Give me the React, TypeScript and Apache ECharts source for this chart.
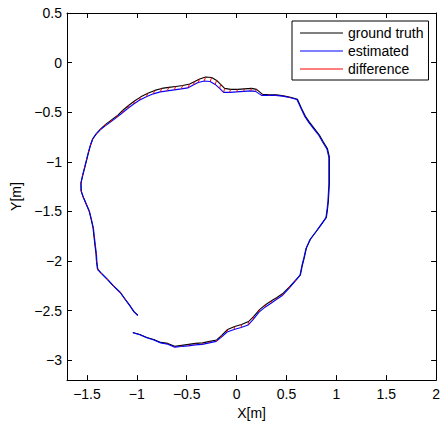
import React, { useEffect, useRef } from "react";
import * as echarts from "echarts";

const gtX = [-0.99,-1.03,-1.07,-1.12,-1.17,-1.24,-1.30,-1.36,-1.395,-1.405,-1.41,-1.42,-1.43,-1.44,-1.46,-1.48,-1.51,-1.54,-1.56,-1.56,-1.54,-1.52,-1.50,-1.48,-1.46,-1.44,-1.40,-1.36,-1.31,-1.25,-1.19,-1.14,-1.08,-1.02,-0.96,-0.89,-0.82,-0.75,-0.68,-0.61,-0.54,-0.47,-0.42,-0.37,-0.31,-0.25,-0.20,-0.16,-0.12,-0.06,0.01,0.08,0.15,0.20,0.26,0.33,0.40,0.47,0.54,0.61,0.65,0.69,0.73,0.78,0.83,0.87,0.91,0.93,0.93,0.93,0.93,0.925,0.92,0.91,0.90,0.85,0.80,0.74,0.70,0.68,0.66,0.64,0.59,0.53,0.46,0.40,0.35,0.29,0.23,0.17,0.12,0.05,-0.02,-0.09,-0.15,-0.20,-0.27,-0.34,-0.41,-0.48,-0.55,-0.62,-0.69,-0.76,-0.83,-0.90,-0.97,-1.04];
const gtY = [-2.545,-2.51,-2.45,-2.38,-2.31,-2.245,-2.18,-2.12,-2.08,-2.00,-1.92,-1.84,-1.75,-1.66,-1.57,-1.49,-1.42,-1.35,-1.29,-1.21,-1.13,-1.05,-0.97,-0.89,-0.82,-0.765,-0.71,-0.665,-0.62,-0.575,-0.53,-0.48,-0.43,-0.385,-0.345,-0.31,-0.28,-0.26,-0.25,-0.24,-0.23,-0.215,-0.19,-0.165,-0.145,-0.15,-0.18,-0.22,-0.26,-0.27,-0.27,-0.265,-0.26,-0.27,-0.32,-0.325,-0.325,-0.335,-0.35,-0.37,-0.46,-0.54,-0.60,-0.665,-0.73,-0.80,-0.865,-0.95,-1.04,-1.13,-1.22,-1.31,-1.40,-1.49,-1.56,-1.63,-1.70,-1.78,-1.87,-1.96,-2.04,-2.14,-2.195,-2.26,-2.33,-2.37,-2.40,-2.44,-2.49,-2.56,-2.61,-2.64,-2.66,-2.69,-2.75,-2.795,-2.81,-2.825,-2.83,-2.84,-2.85,-2.86,-2.83,-2.82,-2.79,-2.77,-2.74,-2.72];
const estX = [-0.99,-1.025,-1.065,-1.115,-1.165,-1.23,-1.29,-1.35,-1.39,-1.40,-1.405,-1.415,-1.425,-1.435,-1.455,-1.475,-1.505,-1.535,-1.555,-1.56,-1.545,-1.525,-1.505,-1.485,-1.465,-1.445,-1.41,-1.37,-1.32,-1.265,-1.205,-1.15,-1.095,-1.035,-0.975,-0.905,-0.835,-0.765,-0.695,-0.625,-0.555,-0.49,-0.435,-0.385,-0.325,-0.265,-0.215,-0.17,-0.13,-0.07,0.0,0.07,0.14,0.19,0.25,0.32,0.39,0.46,0.53,0.605,0.645,0.685,0.725,0.775,0.825,0.865,0.905,0.925,0.925,0.925,0.925,0.92,0.915,0.905,0.895,0.845,0.795,0.735,0.695,0.675,0.655,0.635,0.585,0.525,0.455,0.395,0.345,0.285,0.225,0.165,0.115,0.045,-0.025,-0.095,-0.155,-0.205,-0.275,-0.345,-0.415,-0.485,-0.555,-0.62,-0.69,-0.76,-0.83,-0.90,-0.97,-1.04];
const estY = [-2.55,-2.515,-2.455,-2.39,-2.32,-2.255,-2.19,-2.13,-2.09,-2.01,-1.93,-1.85,-1.76,-1.67,-1.58,-1.50,-1.43,-1.36,-1.30,-1.22,-1.14,-1.06,-0.98,-0.90,-0.83,-0.775,-0.72,-0.68,-0.64,-0.60,-0.555,-0.51,-0.465,-0.42,-0.38,-0.345,-0.315,-0.295,-0.285,-0.275,-0.265,-0.255,-0.225,-0.20,-0.185,-0.19,-0.22,-0.26,-0.30,-0.30,-0.295,-0.29,-0.285,-0.29,-0.33,-0.33,-0.33,-0.338,-0.352,-0.372,-0.46,-0.545,-0.605,-0.67,-0.735,-0.805,-0.87,-0.955,-1.045,-1.135,-1.225,-1.315,-1.405,-1.495,-1.565,-1.635,-1.705,-1.785,-1.875,-1.965,-2.045,-2.145,-2.205,-2.275,-2.35,-2.39,-2.425,-2.465,-2.515,-2.59,-2.645,-2.67,-2.69,-2.715,-2.77,-2.81,-2.825,-2.84,-2.845,-2.855,-2.862,-2.868,-2.838,-2.825,-2.795,-2.773,-2.743,-2.722];

const seriesNames = ["ground truth", "estimated", "difference"];
const FONT = "'Liberation Sans', Arial, Helvetica, sans-serif";

const fmt = (v: number) => String(v).replace("-", "\u2212");

export default function App() {
  const ref = useRef<HTMLDivElement>(null);
  useEffect(() => {
    if (!ref.current) return;
    const chart = echarts.init(ref.current, undefined, { renderer: "svg" });
    const gt = gtX.map((x, i) => [x, gtY[i]]);
    const est = estX.map((x, i) => [x, estY[i]]);
    const diff: any[] = [];
    gtX.forEach((x, i) => {
      diff.push([x, gtY[i]]);
      diff.push([estX[i], estY[i]]);
      diff.push(["-", "-"]);
    });
    const axisCommon = {
      type: "value" as const,
      splitLine: { show: false },
      axisLine: { show: true, onZero: false, lineStyle: { color: "#000", width: 1 } },
      axisTick: { show: true, inside: true, length: 5, lineStyle: { color: "#000" } },
    };
    chart.setOption({
      animation: false,
      grid: { left: 67, top: 13, width: 370, height: 371, containLabel: false },
      legend: {
        orient: "vertical",
        left: 292,
        top: 21,
        padding: [5, 5, 4, 8],
        itemGap: 4,
        itemWidth: 43,
        itemHeight: 1,
        itemTextGap: 5,
        icon: "rect",
        borderColor: "#000",
        borderWidth: 1,
        borderRadius: 0,
        backgroundColor: "#fff",
        textStyle: { fontSize: 14, color: "#000", fontFamily: FONT },
        data: seriesNames,
      },
      xAxis: [
        {
          ...axisCommon,
          position: "bottom",
          min: -1.7,
          max: 2,
          splitNumber: 7,
          name: "X[m]",
          nameLocation: "middle",
          nameGap: 23,
          nameTextStyle: { fontSize: 14, color: "#000", fontFamily: FONT },
          axisLabel: { showMinLabel: false, fontSize: 14, color: "#000", margin: 7, fontFamily: FONT, formatter: fmt },
        },
        {
          ...axisCommon,
          position: "top",
          min: -1.7,
          max: 2,
          splitNumber: 7,
          axisLabel: { show: false },
        },
      ],
      yAxis: [
        {
          ...axisCommon,
          position: "left",
          min: -3.2,
          max: 0.5,
          splitNumber: 7,
          name: "Y[m]",
          nameLocation: "middle",
          nameGap: 40,
          nameTextStyle: { fontSize: 14, color: "#000", fontFamily: FONT },
          axisLabel: { showMinLabel: false, fontSize: 14, color: "#000", margin: 5, fontFamily: FONT, formatter: fmt },
        },
        {
          ...axisCommon,
          position: "right",
          min: -3.2,
          max: 0.5,
          splitNumber: 7,
          axisLabel: { show: false },
        },
      ],
      series: [
        {
          name: seriesNames[0],
          type: "line",
          data: gt,
          symbol: "none",
          lineStyle: { color: "#000", width: 1.1 },
          itemStyle: { color: "#000" },
        },
        {
          name: seriesNames[1],
          type: "line",
          data: est,
          symbol: "none",
          lineStyle: { color: "#0000ff", width: 1.1 },
          itemStyle: { color: "#0000ff" },
        },
        {
          name: seriesNames[2],
          type: "line",
          data: diff,
          symbol: "none",
          connectNulls: false,
          lineStyle: { color: "#ff0000", width: 1 },
          itemStyle: { color: "#ff0000" },
        },
      ],
    });
    return () => chart.dispose();
  }, []);
  return (
    <div
      ref={ref}
      style={{ position: "fixed", left: 0, top: 0, width: 443, height: 425, background: "#fff" }}
    />
  );
}
